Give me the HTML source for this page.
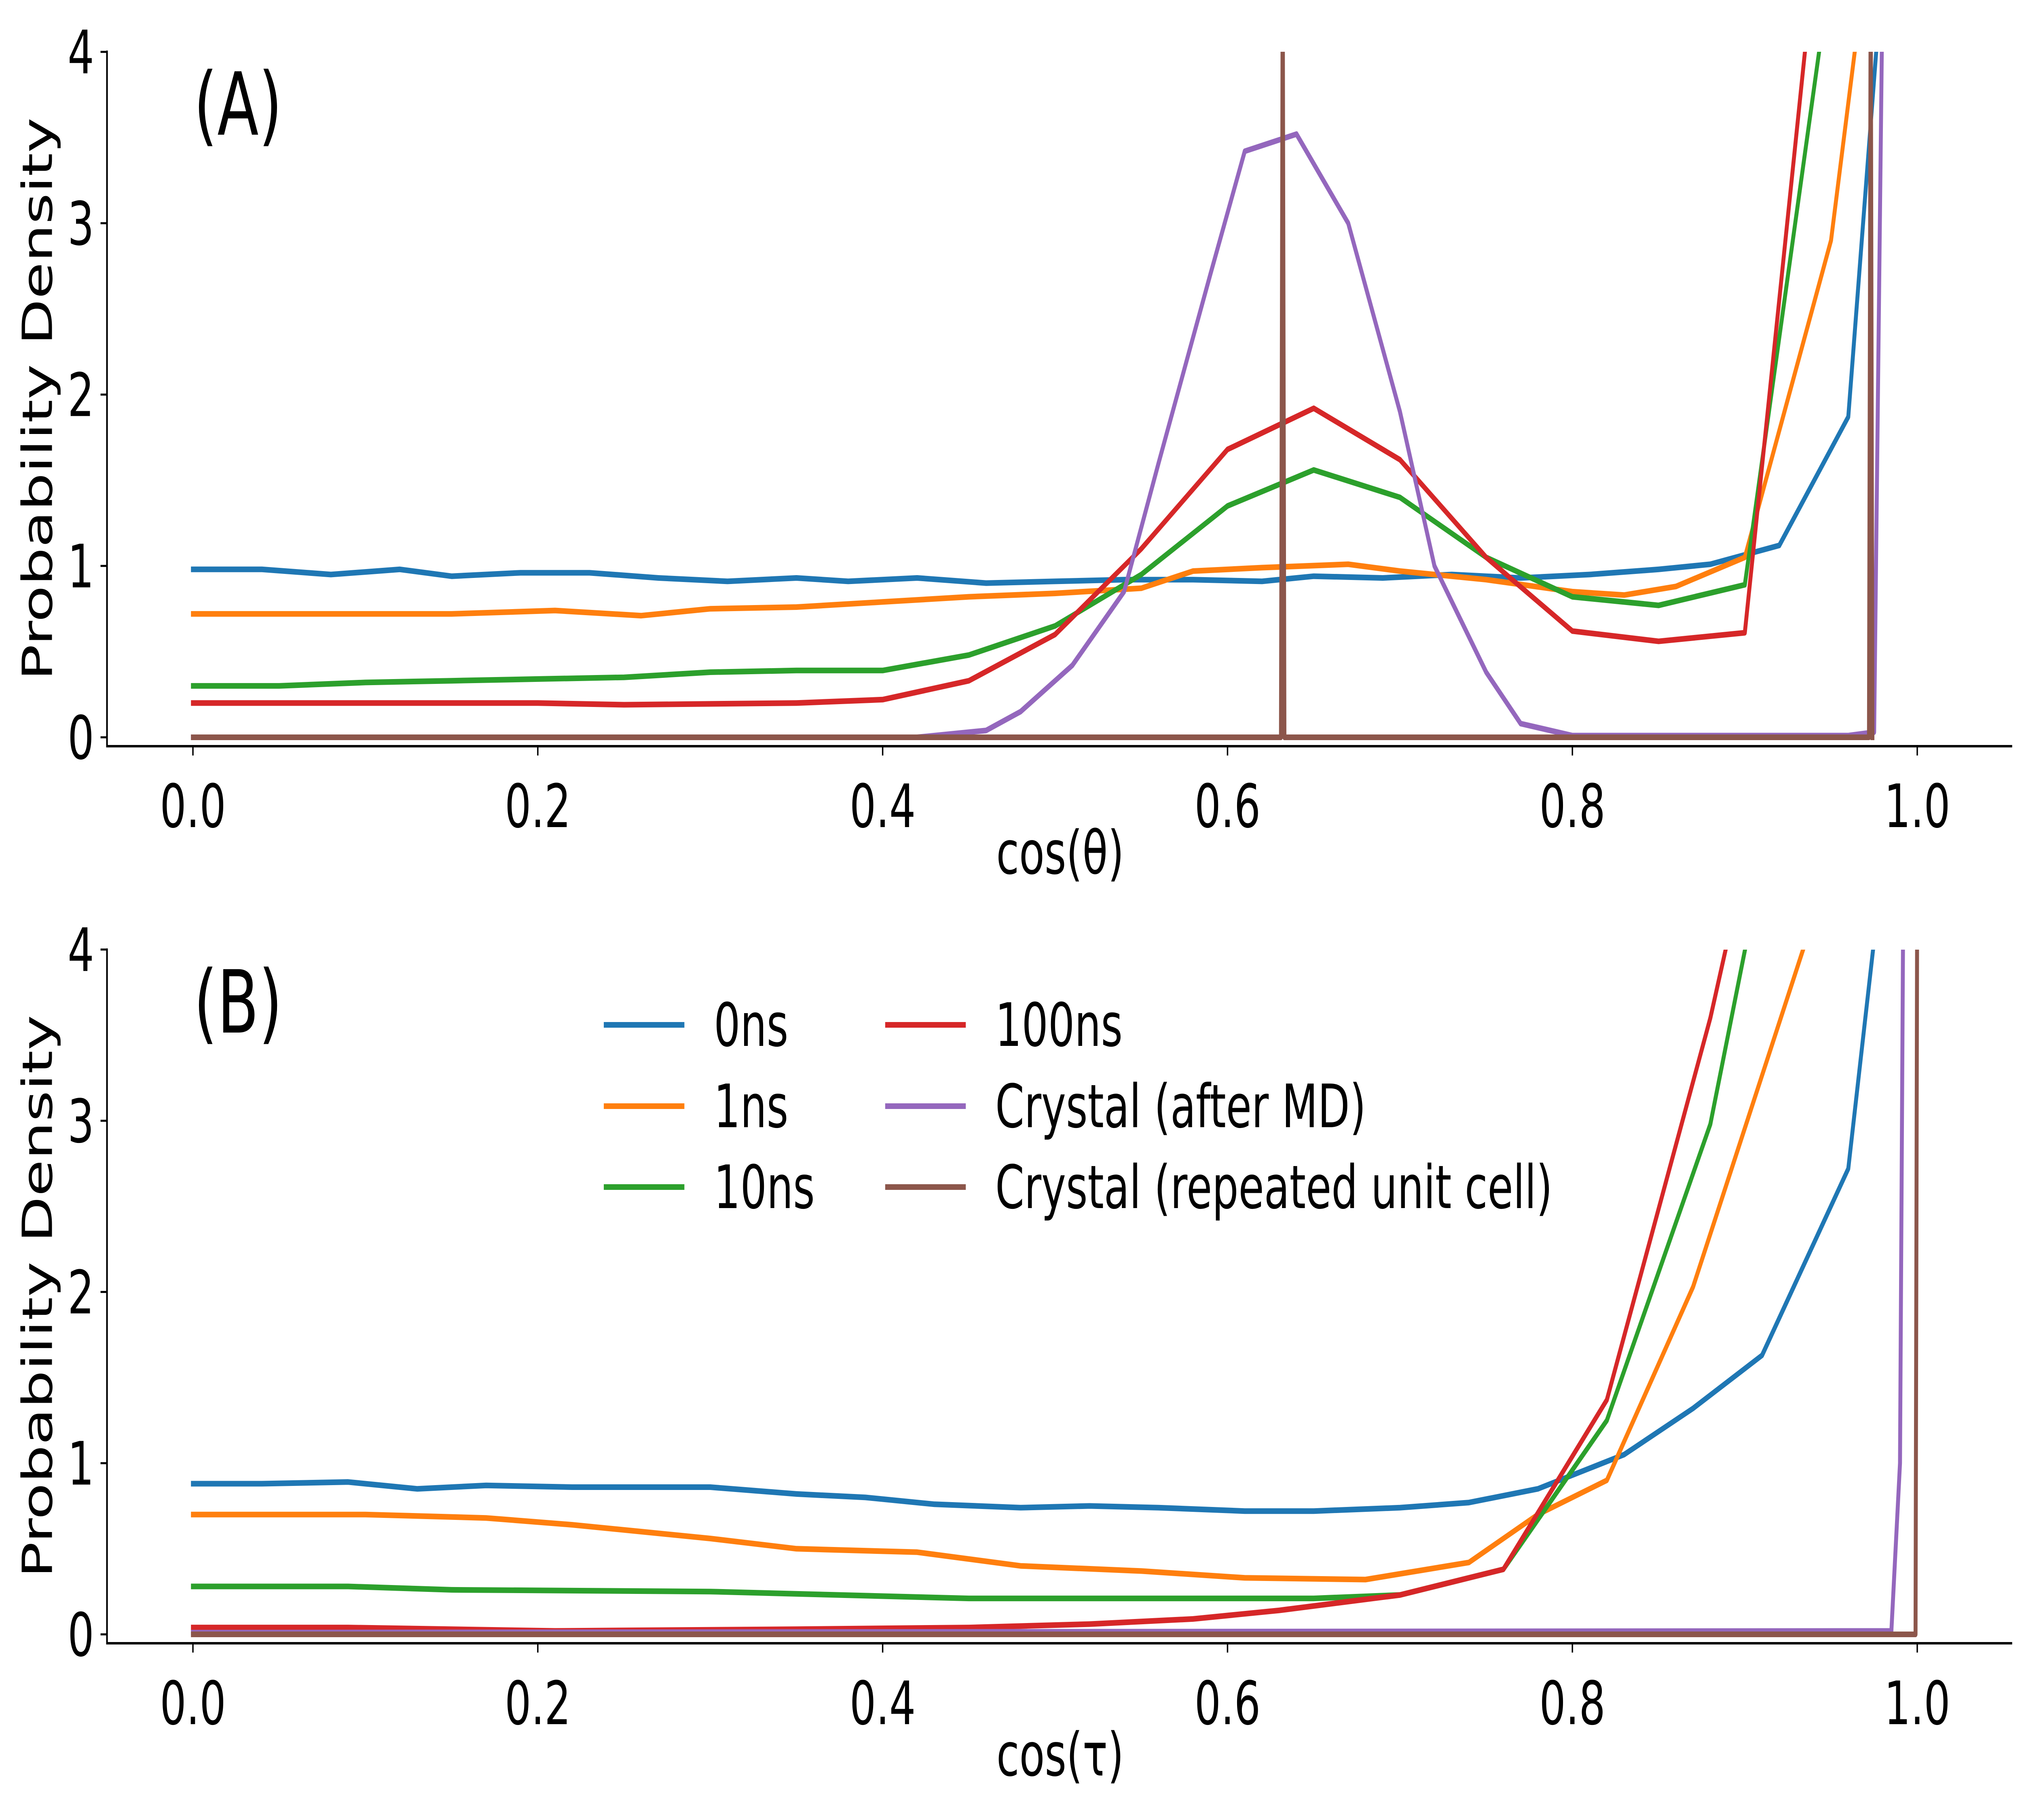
<!DOCTYPE html>
<html><head><meta charset="utf-8"><style>
html,body{margin:0;padding:0;background:#fff;width:100%;height:100%;overflow:hidden}
svg{display:block;width:100vw;height:100vh}
text{font-family:"DejaVu Sans","Liberation Sans",sans-serif;fill:#000}
</style></head><body>
<svg id="fig" viewBox="0 0 7200 4500" preserveAspectRatio="none" xmlns="http://www.w3.org/2000/svg">
<defs>
<clipPath id="clipA"><rect x="381" y="128" width="6790" height="1717"/></clipPath>
<clipPath id="clipB"><rect x="381" y="2348" width="6790" height="1715"/></clipPath>
</defs>
</svg>
<script>
const colors=['#1f77b4','#ff7f0e','#2ca02c','#d62728','#9467bd','#8c564b'];
const seriesNames=['0ns','1ns','10ns','100ns','Crystal (after MD)','Crystal (repeated unit cell)'];
const xTicks=[0,0.2,0.4,0.6,0.8,1.0];
const xTickLabels=['0.0','0.2','0.4','0.6','0.8','1.0'];
const yTicks=[0,1,2,3,4];
const yTickLabels=['0','1','2','3','4'];

const a0x=[0,0.04,0.08,0.12,0.15,0.19,0.23,0.27,0.31,0.35,0.38,0.42,0.46,0.50,0.54,0.58,0.62,0.65,0.69,0.73,0.77,0.81,0.85,0.88,0.92,0.96,0.98];
const a0y=[0.98,0.98,0.95,0.98,0.94,0.96,0.96,0.93,0.91,0.93,0.91,0.93,0.90,0.91,0.92,0.92,0.91,0.94,0.93,0.95,0.93,0.95,0.98,1.01,1.12,1.87,4.5];
const a1x=[0,0.05,0.1,0.15,0.21,0.26,0.3,0.35,0.4,0.45,0.5,0.55,0.58,0.62,0.67,0.7,0.75,0.8,0.83,0.86,0.9,0.95,0.97];
const a1y=[0.72,0.72,0.72,0.72,0.74,0.71,0.75,0.76,0.79,0.82,0.84,0.87,0.97,0.99,1.01,0.97,0.92,0.85,0.83,0.88,1.05,2.9,4.5];
const a2x=[0,0.05,0.1,0.15,0.2,0.25,0.3,0.35,0.4,0.45,0.5,0.55,0.6,0.65,0.7,0.75,0.8,0.85,0.9,0.95];
const a2y=[0.30,0.30,0.32,0.33,0.34,0.35,0.38,0.39,0.39,0.48,0.65,0.95,1.35,1.56,1.40,1.05,0.82,0.77,0.89,4.5];
const a3x=[0,0.1,0.2,0.25,0.35,0.4,0.45,0.5,0.55,0.6,0.65,0.7,0.75,0.8,0.85,0.9,0.94];
const a3y=[0.20,0.20,0.20,0.19,0.20,0.22,0.33,0.6,1.1,1.68,1.92,1.62,1.05,0.62,0.56,0.61,4.5];
const a4x=[0,0.42,0.46,0.48,0.51,0.54,0.56,0.59,0.61,0.64,0.67,0.70,0.72,0.75,0.77,0.80,0.96,0.975,0.98];
const a4y=[0,0,0.04,0.15,0.42,0.85,1.6,2.7,3.42,3.52,3.0,1.9,1.0,0.38,0.08,0.01,0.01,0.03,4.5];
const a5x=[0,0.631,0.632,0.633,0.972,0.973,0.974];
const a5y=[0,0,4.5,0,0,4.5,0];

const b0x=[0,0.04,0.09,0.13,0.17,0.22,0.26,0.3,0.35,0.39,0.43,0.48,0.52,0.56,0.61,0.65,0.7,0.74,0.78,0.83,0.87,0.91,0.96,0.98];
const b0y=[0.88,0.88,0.89,0.85,0.87,0.86,0.86,0.86,0.82,0.80,0.76,0.74,0.75,0.74,0.72,0.72,0.74,0.77,0.85,1.05,1.32,1.63,2.72,4.5];
const b1x=[0,0.1,0.17,0.22,0.26,0.3,0.35,0.42,0.48,0.55,0.61,0.68,0.74,0.78,0.82,0.87,0.95];
const b1y=[0.70,0.70,0.68,0.64,0.60,0.56,0.50,0.48,0.40,0.37,0.33,0.32,0.42,0.70,0.90,2.03,4.5];
const b2x=[0,0.09,0.15,0.3,0.45,0.55,0.65,0.7,0.76,0.82,0.88,0.91];
const b2y=[0.28,0.28,0.26,0.25,0.21,0.21,0.21,0.23,0.38,1.25,2.98,4.5];
const b3x=[0,0.09,0.21,0.35,0.45,0.52,0.58,0.63,0.7,0.76,0.82,0.88,0.9];
const b3y=[0.04,0.04,0.02,0.03,0.04,0.06,0.09,0.14,0.23,0.38,1.37,3.6,4.5];
const b4x=[0,0.985,0.99,0.992];
const b4y=[0.01,0.02,1.0,4.5];
const b5x=[0,0.999,1.0];
const b5y=[0,0,4.5];

const NS='http://www.w3.org/2000/svg';
const svg=document.getElementById('fig');
const X0=687,XU=6140;
function xs(v){return X0+v*XU;}
function mk(tag,attrs,parent){const e=document.createElementNS(NS,tag);for(const k in attrs)e.setAttribute(k,attrs[k]);(parent||svg).appendChild(e);return e;}

const panels=[
 {id:'a',y0:1823,yu:423.7,spine:1845,top:128,clip:'clipA',label:'(A)',xlabel:'cos(\u03b8)',xlY:2160,
  xs:[a0x,a1x,a2x,a3x,a4x,a5x],ys:[a0y,a1y,a2y,a3y,a4y,a5y]},
 {id:'b',y0:4041,yu:423.3,spine:4063,top:2348,clip:'clipB',label:'(B)',xlabel:'cos(\u03c4)',xlY:4390,
  xs:[b0x,b1x,b2x,b3x,b4x,b5x],ys:[b0y,b1y,b2y,b3y,b4y,b5y]}
];
panels.forEach(p=>{
 const g=mk('g',{});
 
 
 const ysc=v=>p.y0-v*p.yu;
 const sg=mk('g',{'clip-path':'url(#'+p.clip+')'},g);
 p.xs.forEach((xa,i)=>{
  const pts=xa.map((x,j)=>xs(x).toFixed(1)+','+ysc(p.ys[i][j]).toFixed(1)).join(' ');
  const l=mk('polyline',{points:pts,fill:'none',stroke:colors[i],'stroke-width':14,'stroke-linejoin':'round','stroke-linecap':'square'},sg);
  
  
 });
 const sl=mk('line',{x1:381,y1:p.top-3,x2:381,y2:p.spine+3,stroke:'#000','stroke-width':6},g);
 
 
 const sb=mk('line',{x1:378,y1:p.spine,x2:7165,y2:p.spine,stroke:'#000','stroke-width':6},g);
 
 
 yTicks.forEach((v,i)=>{
  mk('line',{x1:358,y1:ysc(v),x2:381,y2:ysc(v),stroke:'#000','stroke-width':5},g);
  const t=mk('text',{x:335,y:ysc(v)+53,'font-size':148,'text-anchor':'end'},g);
  t.textContent=yTickLabels[i];
  
  
 });
 xTicks.forEach((v,i)=>{
  mk('line',{x1:xs(v),y1:p.spine,x2:xs(v),y2:p.spine+23,stroke:'#000','stroke-width':5},g);
  const t=mk('text',{x:xs(v),y:p.spine+200,'font-size':148,'text-anchor':'middle'},g);
  t.textContent=xTickLabels[i];
  
  
 });
 const xl=mk('text',{x:3775,y:p.xlY,'font-size':148,'text-anchor':'middle'},g);
 xl.textContent=p.xlabel;
 
 
 const yc=(p.top+p.spine)/2;
 const yl=mk('text',{x:0,y:0,'font-size':148,'text-anchor':'middle',transform:'translate(185,'+yc+') rotate(-90)'},g);
 yl.textContent='Probability Density';
 
 
 const pl=mk('text',{x:690,y:p.top+205,'font-size':215},g);
 pl.textContent=p.label;
 
 
});
const lg=mk('g',{});


const colX=[2150,3152], rowY=[2534,2735,2935];
seriesNames.forEach((n,i)=>{
 const c=Math.floor(i/3), r=i%3;
 const e=mk('g',{},lg);
 
 
 mk('line',{x1:colX[c],y1:rowY[r],x2:colX[c]+287,y2:rowY[r],stroke:colors[i],'stroke-width':14},e);
 const t=mk('text',{x:colX[c]+392,y:rowY[r]+52,'font-size':148},e);
 t.textContent=n;
});
</script>
</body></html>
